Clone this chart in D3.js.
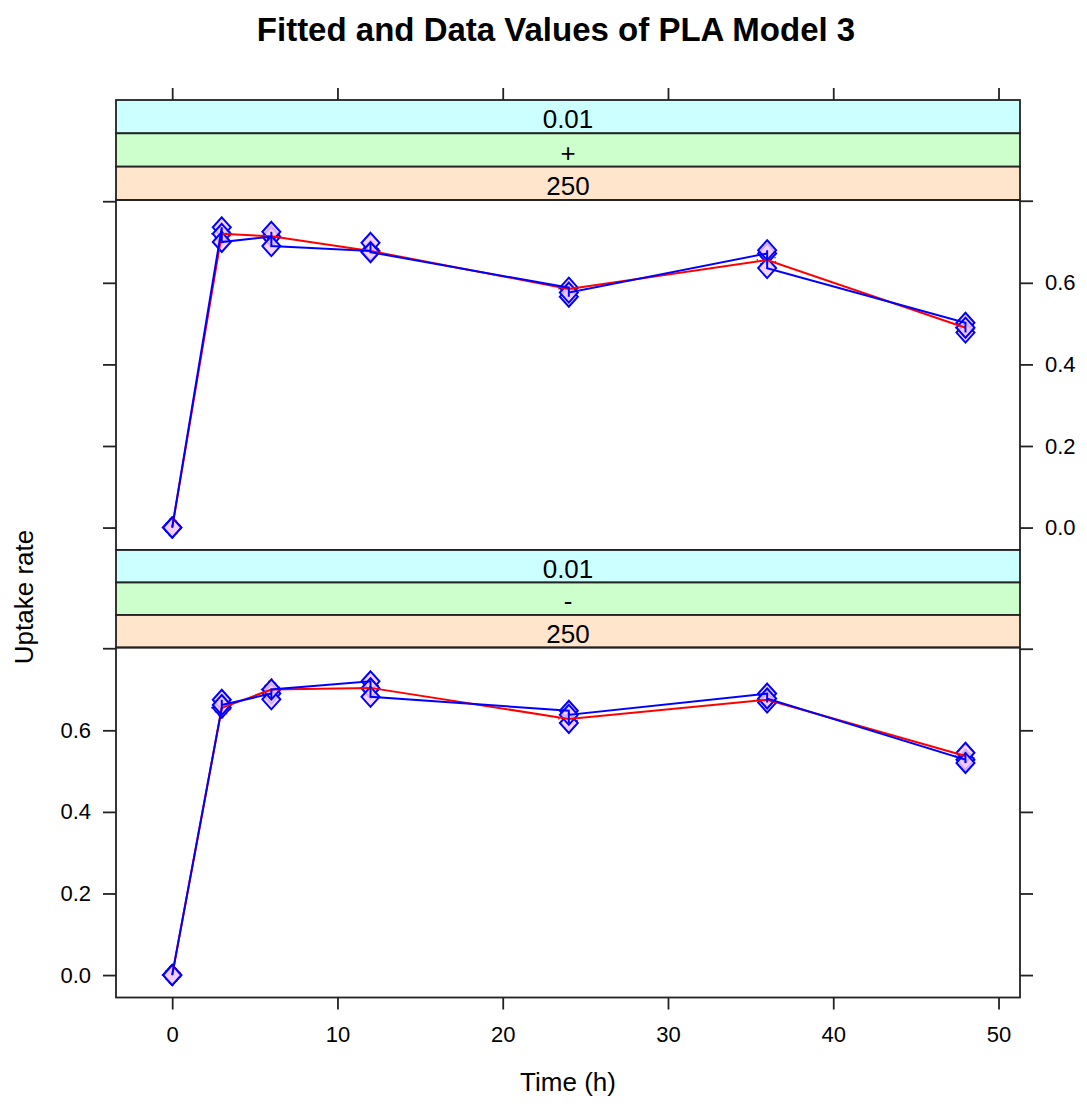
<!DOCTYPE html>
<html>
<head>
<meta charset="utf-8">
<script src="https://cdn.jsdelivr.net/npm/d3@7"></script>
<style>
  body { margin: 0; background: #fff; }
  text { font-family: "Liberation Sans", Arial, sans-serif; fill: #000; }
</style>
</head>
<body>
<div id="chart"></div>
<script>
// data
var times = [0, 3, 6, 12, 24, 36, 48];

// replicates per time, in the order the data line visits them
var plusData = [
    [0, 0, 0],
    [0.736, 0.72, 0.70],
    [0.713, 0.725, 0.69],
    [0.678, 0.698, 0.675],
    [0.588, 0.566, 0.576],
    [0.672, 0.68, 0.636],
    [0.502, 0.478, 0.49]
];
var plusFit = [0, 0.72, 0.714, 0.678, 0.585, 0.656, 0.49];

var minusData = [
    [0, 0, 0],
    [0.655, 0.675, 0.662],
    [0.69, 0.676, 0.70],
    [0.72, 0.703, 0.682],
    [0.648, 0.618, 0.638],
    [0.69, 0.668, 0.678],
    [0.528, 0.545, 0.52]
];
var minusFit = [0, 0.655, 0.70, 0.704, 0.628, 0.675, 0.537];

var xTicks = [0, 10, 20, 30, 40, 50];
var yTicks = [0, 0.2, 0.4, 0.6, 0.8];
var yLabelled = [0, 0.2, 0.4, 0.6];

var panels = [
    { strips: ["0.01", "+", "250"], data: plusData, fit: plusFit, stripTop: 100, top: 200, yLabels: "right", xTop: true },
    { strips: ["0.01", "-", "250"], data: minusData, fit: minusFit, stripTop: 550, top: 647.5, yLabels: "left", xTop: false }
];
var stripColors = ["#ccffff", "#ccffcc", "#ffe5cc"];

var width = 1087, height = 1104;
var left = 116, right = 1020, panelH = 350;
var tick = 13;
var ink = "#222", inkW = 1.8;

var svg = d3.select("#chart").append("svg")
    .attr("width", width)
    .attr("height", height);

var x = d3.scaleLinear().domain([-3.4, 51.3]).range([left, right]);

// title
svg.append("text")
    .attr("x", 556).attr("y", 41)
    .attr("text-anchor", "middle")
    .style("font-size", "33px").style("font-weight", "bold")
    .text("Fitted and Data Values of PLA Model 3");

svg.append("text")
    .attr("x", 568).attr("y", 1091)
    .attr("text-anchor", "middle")
    .style("font-size", "26px")
    .text("Time (h)");

svg.append("text")
    .attr("transform", "translate(33,597) rotate(-90)")
    .attr("text-anchor", "middle")
    .style("font-size", "26px")
    .text("Uptake rate");

var diamond = function(cx, cy, hw, hh){
    return "M" + cx + "," + (cy - hh) + "L" + (cx + hw) + "," + cy +
	"L" + cx + "," + (cy + hh) + "L" + (cx - hw) + "," + cy + "Z";
};

var styleAxis = function(g, labels){
    g.select(".domain").remove();
    g.selectAll(".tick line").attr("stroke", ink).attr("stroke-width", inkW);
    g.selectAll(".tick text").style("font-size", "22px").attr("fill", "#000");
    if (!labels) g.selectAll(".tick text").remove();
};

panels.forEach(function(p){

    var y = d3.scaleLinear().domain([-0.055, 0.803]).range([p.top + panelH, p.top]);
    var stripH = (p.top - p.stripTop) / 3;

    // strips
    p.strips.forEach(function(s, i){
	var sy = p.stripTop + i * stripH;
	svg.append("rect")
	    .attr("x", left).attr("y", sy)
	    .attr("width", right - left).attr("height", stripH)
	    .attr("fill", stripColors[i])
	    .attr("stroke", ink).attr("stroke-width", inkW);
	svg.append("text")
	    .attr("x", (left + right) / 2).attr("y", sy + stripH - 5)
	    .attr("text-anchor", "middle")
	    .style("font-size", "26px")
	    .text(s);
    });

    // y axes
    var yl = svg.append("g").attr("transform", "translate(" + left + ",0)")
	.call(d3.axisLeft(y).tickValues(p.yLabels == "left" ? yLabelled : yTicks)
	      .tickFormat(d3.format(".1f")).tickSize(tick).tickPadding(12));
    styleAxis(yl, p.yLabels == "left");
    if (p.yLabels == "left") {
	yl.append("line").attr("x1", -tick).attr("x2", 0)
	    .attr("y1", y(0.8)).attr("y2", y(0.8))
	    .attr("stroke", ink).attr("stroke-width", inkW);
    }

    var yr = svg.append("g").attr("transform", "translate(" + right + ",0)")
	.call(d3.axisRight(y).tickValues(p.yLabels == "right" ? yLabelled : yTicks)
	      .tickFormat(d3.format(".1f")).tickSize(tick).tickPadding(12));
    styleAxis(yr, p.yLabels == "right");
    if (p.yLabels == "right") {
	yr.append("line").attr("x1", 0).attr("x2", tick)
	    .attr("y1", y(0.8)).attr("y2", y(0.8))
	    .attr("stroke", ink).attr("stroke-width", inkW);
    }

    // x axes
    if (p.xTop) {
	var xt = svg.append("g").attr("transform", "translate(0," + p.stripTop + ")")
	    .call(d3.axisTop(x).tickValues(xTicks).tickSize(12));
	styleAxis(xt, false);
    } else {
	var xb = svg.append("g").attr("transform", "translate(0," + (p.top + panelH) + ")")
	    .call(d3.axisBottom(x).tickValues(xTicks).tickSize(12).tickPadding(17));
	styleAxis(xb, true);
    }

    var area = svg.append("g");

    // fitted markers (red, mostly hidden)
    area.selectAll(".fitpt")
	.data(p.fit)
	.enter().append("path")
	.attr("d", function(d, i){ return diamond(x(times[i]), y(d), 10, 11); })
	.attr("fill", "none")
	.attr("stroke", "#ff0000")
	.attr("stroke-width", 1.3)
	.attr("stroke-dasharray", "1.5,4");

    // flatten replicates
    var pts = [];
    p.data.forEach(function(reps, i){
	reps.forEach(function(v){ pts.push({ t: times[i], v: v }); });
    });

    area.selectAll(".pt")
	.data(pts)
	.enter().append("path")
	.attr("d", function(d){ return diamond(x(d.t), y(d.v), 9, 10); })
	.attr("fill", "#f3ccff")
	.attr("fill-opacity", 0.85)
	.attr("stroke", "#0000ff")
	.attr("stroke-width", 2);

    var fitLine = d3.line()
	.x(function(d, i){ return x(times[i]); })
	.y(function(d){ return y(d); });

    area.append("path")
	.datum(p.fit)
	.attr("d", fitLine)
	.attr("fill", "none")
	.attr("stroke", "#ff0000")
	.attr("stroke-width", 2);

    var dataLine = d3.line()
	.x(function(d){ return x(d.t); })
	.y(function(d){ return y(d.v); });

    area.append("path")
	.datum(pts)
	.attr("d", dataLine)
	.attr("fill", "none")
	.attr("stroke", "#0000ff")
	.attr("stroke-width", 2);

    // panel border
    svg.append("rect")
	.attr("x", left).attr("y", p.top)
	.attr("width", right - left).attr("height", panelH)
	.attr("fill", "none")
	.attr("stroke", ink).attr("stroke-width", inkW);
});
</script>
</body>
</html>
